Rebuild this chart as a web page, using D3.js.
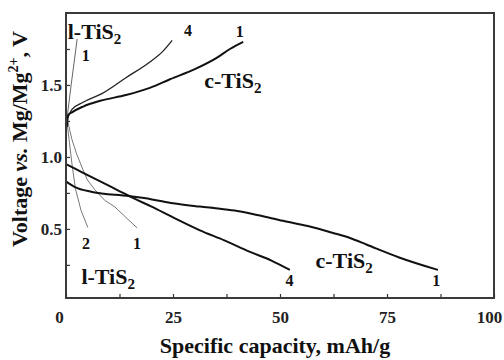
<!DOCTYPE html>
<html>
<head>
<meta charset="utf-8">
<script src="https://cdn.jsdelivr.net/npm/d3@7"></script>
<style>
  body { margin: 0; background: #fff; }
  svg { display: block; font-family: "Liberation Serif", "DejaVu Serif", serif; font-weight: bold; }
  .axis path { display: none; }
  .axis line { stroke: #333; stroke-width: 1.2; }
  .axis text { font-family: "Liberation Serif", serif; font-weight: bold; font-size: 17px; fill: #222; }
</style>
</head>
<body>
<svg width="504" height="360"></svg>
<script>
// specific capacity (mAh/g) and voltage (V)
var chargeC1Cap = [0.2, 0.5, 1.4, 4, 8, 14, 19.6, 24.3, 30.1, 35.3, 38.3, 41.4];
var chargeC1V   = [1.21, 1.29, 1.31, 1.35, 1.39, 1.43, 1.48, 1.54, 1.61, 1.69, 1.75, 1.80];

var chargeC4Cap = [0.4, 1.4, 4, 8.4, 14, 19.6, 22.5, 24.8];
var chargeC4V   = [1.27, 1.33, 1.38, 1.44, 1.55, 1.66, 1.73, 1.81];

var chargeL1Cap = [0.1, 0.5, 1.2, 2.0, 2.6];
var chargeL1V   = [1.22, 1.33, 1.50, 1.68, 1.82];

var dischargeC1Cap = [0, 2.1, 6.1, 14.7, 20.1, 25, 31.3, 36, 40, 45, 50.7, 56.5, 62.4, 66.5, 70.3, 78, 86.9];
var dischargeC1V   = [0.83, 0.79, 0.757, 0.728, 0.705, 0.678, 0.655, 0.64, 0.625, 0.595, 0.556, 0.52, 0.472, 0.435, 0.39, 0.30, 0.215];

var dischargeC4Cap = [0, 4, 8, 12, 16, 20, 25, 31.3, 37, 43, 48, 52.3];
var dischargeC4V   = [0.95, 0.89, 0.83, 0.77, 0.71, 0.655, 0.58, 0.49, 0.42, 0.34, 0.28, 0.215];

var dischargeL1Cap = [0.3, 1.4, 2.5, 3.7, 5, 6.8, 9, 11.4, 14, 16.6];
var dischargeL1V   = [1.26, 1.12, 1.02, 0.93, 0.84, 0.77, 0.70, 0.653, 0.58, 0.507];

var dischargeL2Cap = [0.2, 0.8, 1.4, 2.2, 3.5, 5.1];
var dischargeL2V   = [1.25, 1.1, 0.95, 0.78, 0.63, 0.51];

var xTicks = [0, 12.5, 25, 37.5, 50, 62.5, 75, 87.5, 100];
var yTicks = [0.25, 0.5, 0.75, 1.0, 1.25, 1.5, 1.75];

var svg = d3.select("svg");
var margin = { top: 13, right: 10, bottom: 62, left: 66 };
var width = +svg.attr("width") - margin.left - margin.right;
var height = +svg.attr("height") - margin.top - margin.bottom;

var x = d3.scaleLinear().domain([0, 100]).range([0, width]);
var y = d3.scaleLinear().domain([0.02, 2.0]).range([height, 0]);

var g = svg.append("g").attr("transform", "translate(" + margin.left + "," + margin.top + ")");

function zip(cap, v) {
    return cap.map(function (c, i) { return [c, v[i]]; });
}

var line = d3.line()
    .x(function (d) { return x(d[0]); })
    .y(function (d) { return y(d[1]); })
    .curve(d3.curveMonotoneX);

var lineSteep = d3.line()
    .x(function (d) { return x(d[0]); })
    .y(function (d) { return y(d[1]); });

var series = [
    { data: zip(dischargeL2Cap, dischargeL2V), color: "#777", w: 1, gen: lineSteep },
    { data: zip(dischargeL1Cap, dischargeL1V), color: "#777", w: 1, gen: lineSteep },
    { data: zip(chargeL1Cap, chargeL1V), color: "#666", w: 1, gen: lineSteep },
    { data: zip(chargeC4Cap, chargeC4V), color: "#222", w: 1.3, gen: line },
    { data: zip(chargeC1Cap, chargeC1V), color: "#111", w: 2, gen: line },
    { data: zip(dischargeC4Cap, dischargeC4V), color: "#111", w: 2, gen: line },
    { data: zip(dischargeC1Cap, dischargeC1V), color: "#111", w: 2, gen: line }
];

series.forEach(function (s) {
    g.append("path")
        .datum(s.data)
        .attr("fill", "none")
        .attr("stroke", s.color)
        .attr("stroke-width", s.w)
        .attr("stroke-linejoin", "round")
        .attr("d", s.gen);
});

// axes, ticks pointing inward
var xAxis = d3.axisBottom(x).tickValues(xTicks).tickSize(-4).tickPadding(13)
    .tickFormat(function (d) { return d % 25 === 0 ? d3.format("d")(d) : ""; });
var yAxis = d3.axisLeft(y).tickValues(yTicks).tickSize(-4).tickPadding(4)
    .tickFormat(function (d) { return d % 0.5 === 0 ? d3.format(".1f")(d) : ""; });

var xg = g.append("g").attr("class", "axis").attr("transform", "translate(0," + height + ")").call(xAxis);
xg.selectAll("text").filter(function (d) { return d === 0; }).attr("dx", "-7");
xg.selectAll("text").filter(function (d) { return d === 100; }).attr("dx", "-5");
g.append("g").attr("class", "axis").call(yAxis);

g.append("rect")
    .attr("width", width).attr("height", height)
    .attr("fill", "none").attr("stroke", "#3a3a3a").attr("stroke-width", 2);

// annotations
function addTiS2(prefix, cx, vy) {
    var t = g.append("text").attr("x", x(cx)).attr("y", y(vy)).attr("font-size", 22).attr("fill", "#111");
    t.append("tspan").text(prefix + "-TiS");
    t.append("tspan").attr("font-size", 15).attr("dy", 5).text("2");
}
addTiS2("l", 0.4, 1.82);
addTiS2("c", 32.3, 1.48);
addTiS2("l", 3.6, 0.12);
addTiS2("c", 58.3, 0.225);

var numLabels = [
    { t: "1", c: 4.6, v: 1.67 },
    { t: "4", c: 28.5, v: 1.84 },
    { t: "1", c: 40.6, v: 1.83 },
    { t: "2", c: 4.7, v: 0.36 },
    { t: "1", c: 16.6, v: 0.36 },
    { t: "4", c: 52.2, v: 0.1 },
    { t: "1", c: 86.5, v: 0.1 }
];
numLabels.forEach(function (d) {
    g.append("text")
        .attr("x", x(d.c)).attr("y", y(d.v))
        .attr("text-anchor", "middle")
        .attr("font-size", 16).attr("fill", "#111")
        .text(d.t);
});

// axis titles
svg.append("text")
    .attr("x", margin.left + width / 2 - 5).attr("y", 353)
    .attr("text-anchor", "middle").attr("font-size", 22).attr("fill", "#111")
    .text("Specific capacity, mAh/g");

var yt = svg.append("text")
    .attr("transform", "translate(27," + 139 + ") rotate(-90)")
    .attr("text-anchor", "middle").attr("font-size", 22).attr("fill", "#111");
yt.append("tspan").text("Voltage ");
yt.append("tspan").attr("font-style", "italic").text("vs.");
yt.append("tspan").text(" Mg/Mg");
yt.append("tspan").attr("font-size", 14).attr("dy", -9).text("2+");
yt.append("tspan").attr("dy", 9).text(", V");
</script>
</body>
</html>
